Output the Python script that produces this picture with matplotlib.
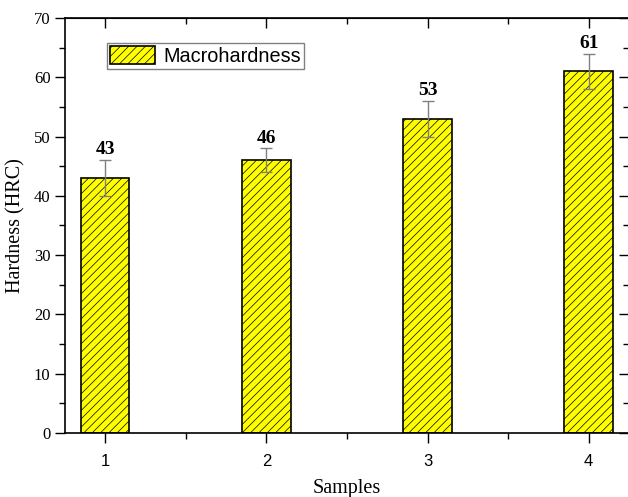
import matplotlib.pyplot as plt
from matplotlib.ticker import MultipleLocator

samples = [1, 2, 3, 4]
hardness = [43, 46, 53, 61]
errors = [3, 2, 3, 3]

plt.rcParams['hatch.linewidth'] = 0.5

fig = plt.figure(figsize=(6.28, 4.97), dpi=100)
ax = fig.add_axes([0.1035, 0.1288, 0.898, 0.835])

ax.bar(samples, hardness, width=0.3, color='#ffff00', edgecolor='black',
       linewidth=1.2, hatch='////', label='Macrohardness', zorder=2)
ax.errorbar(samples, hardness, yerr=errors, fmt='none', ecolor='#808080',
            elinewidth=1, capsize=4, capthick=1, zorder=3)

for x, v, e in zip(samples, hardness, errors):
    ax.text(x, v + e + 0.3, str(v), ha='center', va='bottom',
            fontsize=14, fontweight='bold', family='Liberation Serif')

ax.set_xlim(0.75, 4.25)
ax.set_ylim(0, 70)
ax.set_xticks(samples)
ax.xaxis.set_minor_locator(MultipleLocator(0.5))
ax.yaxis.set_major_locator(MultipleLocator(10))
ax.yaxis.set_minor_locator(MultipleLocator(5))

ax.tick_params(which='both', direction='out', width=1)
ax.tick_params(which='major', length=7)
ax.tick_params(which='minor', length=4)
for t in ax.get_xticklabels():
    t.set_family('Liberation Sans')
    t.set_fontsize(12)
for t in ax.get_yticklabels():
    t.set_family('Liberation Serif')
    t.set_fontsize(12)
ax.xaxis.set_tick_params(pad=8)

# inward ticks on top and right
sx = ax.secondary_xaxis('top')
sx.set_xticks(samples)
sx.xaxis.set_minor_locator(MultipleLocator(0.5))
sx.tick_params(which='both', direction='in', labeltop=False, width=1)
sx.tick_params(which='major', length=7)
sx.tick_params(which='minor', length=4)
sy = ax.secondary_yaxis('right')
sy.yaxis.set_major_locator(MultipleLocator(10))
sy.yaxis.set_minor_locator(MultipleLocator(5))
sy.tick_params(which='both', direction='in', labelright=False, width=1)
sy.tick_params(which='major', length=7)
sy.tick_params(which='minor', length=4)

for s in ax.spines.values():
    s.set_linewidth(1.2)

ax.set_xlabel('Samples', family='Liberation Serif', fontsize=14.5, labelpad=7)
ax.set_ylabel('Hardness (HRC)', family='Liberation Serif', fontsize=14.5, labelpad=6)

leg = ax.legend(loc='upper left', bbox_to_anchor=(0.074, 0.94), fancybox=False,
                framealpha=1, edgecolor='#808080', prop={'family': 'Liberation Sans', 'size': 14.3},
                handlelength=2.3, handleheight=1.0, borderpad=0.15, borderaxespad=0,
                handletextpad=0.4)
leg.get_frame().set_linewidth(1)

fig.savefig('out.png', dpi=100)
